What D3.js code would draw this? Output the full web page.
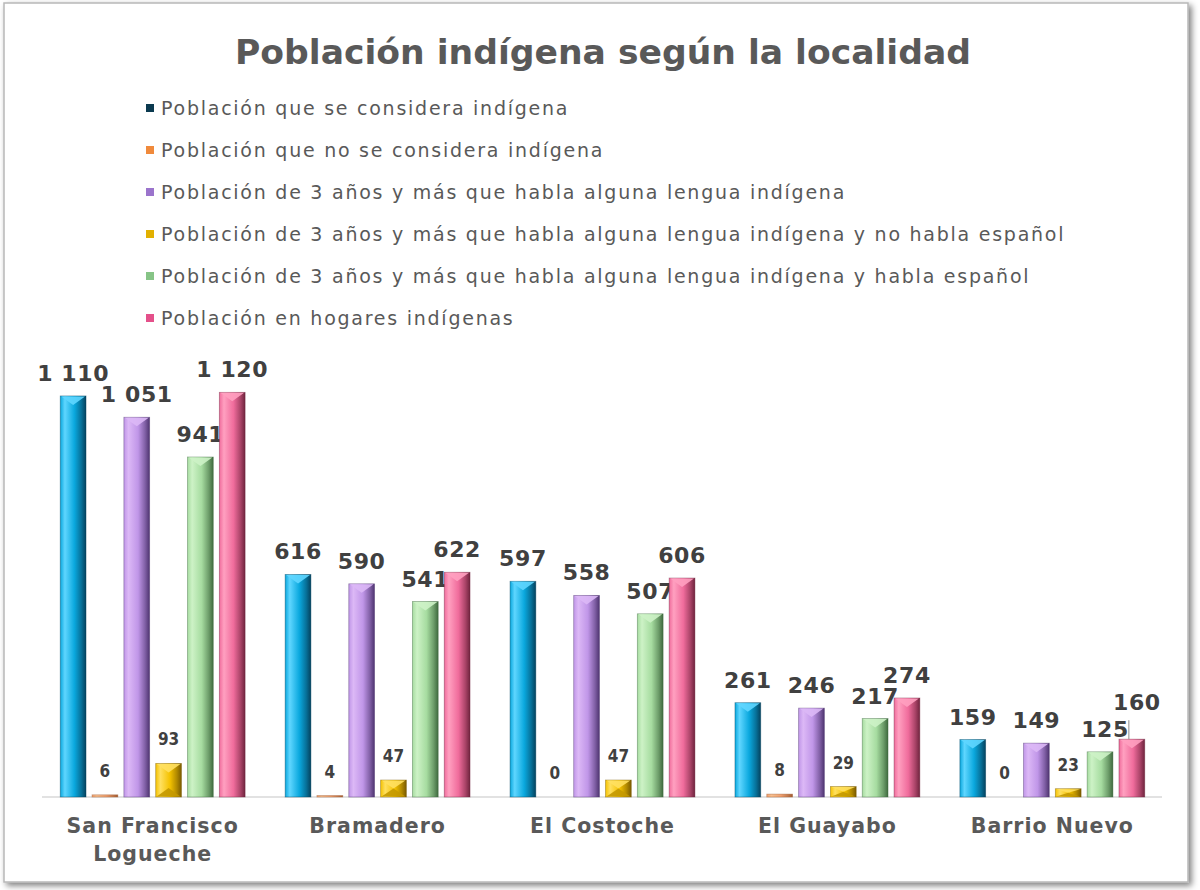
<!DOCTYPE html>
<html><head><meta charset="utf-8">
<script src="https://cdn.jsdelivr.net/npm/d3@7/dist/d3.min.js"></script>
<style>
html,body{margin:0;padding:0;background:#fff;}
svg{display:block;}
</style></head>
<body>
<svg id="chart" width="1200" height="890"></svg>
<script>
// ---- DATA ----
const title = "Población indígena según la localidad";
const categories = ["San Francisco\nLogueche", "Bramadero", "El Costoche", "El Guayabo", "Barrio Nuevo"];
const seriesNames = [
  "Población que se considera indígena",
  "Población que no se considera indígena",
  "Población de 3 años y más que habla alguna lengua indígena",
  "Población de 3 años y más que habla alguna lengua indígena y no habla español",
  "Población de 3 años y más que habla alguna lengua indígena y habla español",
  "Población en hogares indígenas"
];
const seriesConsidera   = [1110, 616, 597, 261, 159];
const seriesNoConsidera = [6, 4, 0, 8, 0];
const seriesHabla       = [1051, 590, 558, 246, 149];
const seriesNoEspanol   = [93, 47, 47, 29, 23];
const seriesEspanol     = [941, 541, 507, 217, 125];
const seriesHogares     = [1120, 622, 606, 274, 160];
const seriesValues = [seriesConsidera, seriesNoConsidera, seriesHabla, seriesNoEspanol, seriesEspanol, seriesHogares];

// colours
const legendColors = ["#0b3a4f", "#f08a3c", "#9b74cc", "#e2b000", "#86c486", "#e4508a"];
const barLight = ["#5fd6ff", "#f8c090", "#dcb8f6", "#ffe060", "#cdf2c6", "#ffa0c0"];
const barBase  = ["#0aa8de", "#f0a070", "#c096e8", "#f4c200", "#a6dca0", "#f06c9c"];
const barDark  = ["#04425e", "#a05a30", "#4e3470", "#7a5a00", "#3e6a3e", "#70243e"];
const smallLabelSeries = [1, 3];

// ---- CHART ----
const svg = d3.select("#chart");
const defs = svg.append("defs");

const f = defs.append("filter").attr("id","shadow").attr("x","-5%").attr("y","-5%").attr("width","110%").attr("height","110%");
f.append("feGaussianBlur").attr("in","SourceAlpha").attr("stdDeviation",3);
f.append("feOffset").attr("dx",3).attr("dy",3).attr("result","ob");
f.append("feComponentTransfer").append("feFuncA").attr("type","linear").attr("slope",0.5);
const fm = f.append("feMerge"); fm.append("feMergeNode"); fm.append("feMergeNode").attr("in","SourceGraphic");

svg.append("rect").attr("x",4).attr("y",3).attr("width",1184).attr("height",879)
  .attr("fill","#fff").attr("stroke","#b8b8b8").attr("stroke-width",1.5).attr("filter","url(#shadow)");

seriesNames.forEach((n,i)=>{
  const g = defs.append("linearGradient").attr("id","g"+i).attr("x1","0%").attr("x2","100%").attr("y1","0%").attr("y2","0%");
  g.append("stop").attr("offset","0%").attr("stop-color",barBase[i]);
  g.append("stop").attr("offset","18%").attr("stop-color",barLight[i]);
  g.append("stop").attr("offset","55%").attr("stop-color",barBase[i]);
  g.append("stop").attr("offset","82%").attr("stop-color",d3.interpolateRgb(barBase[i],barDark[i])(0.55));
  g.append("stop").attr("offset","100%").attr("stop-color",barDark[i]);
});

// title
svg.append("text").attr("x",603).attr("y",64).attr("text-anchor","middle")
  .attr("font-family","'DejaVu Sans',sans-serif").attr("font-weight","bold")
  .attr("font-size",34).attr("fill","#595959")
  .attr("textLength",736).attr("lengthAdjust","spacingAndGlyphs")
  .text(title);

// legend
const legend = svg.append("g");
seriesNames.forEach((n,i)=>{
  const yy = 108 + i*42;
  legend.append("rect").attr("x",146).attr("y",yy-4).attr("width",8).attr("height",8).attr("fill",legendColors[i]);
  legend.append("text").attr("x",161).attr("y",yy+6.5)
    .attr("font-family","'DejaVu Sans',Verdana,sans-serif").attr("font-size",19).attr("letter-spacing",1.75).attr("fill","#595959")
    .text(n);
});

// scales
const baseY = 797;
const y = d3.scaleLinear().domain([0,1200]).range([baseY, baseY - 1200*0.3613]);
const x0 = d3.scaleBand().domain(categories).range([40,1165]).paddingInner(0.178).paddingOuter(0.09);
const x1 = d3.scaleBand().domain(d3.range(seriesNames.length)).range([0,x0.bandwidth()]).paddingInner(0.19).paddingOuter(0);

const xAxis = d3.axisBottom(x0).tickSize(0).tickFormat("");
const axG = svg.append("g").attr("transform",`translate(0,${baseY})`).call(xAxis);
axG.select(".domain").attr("stroke","#d9d9d9").attr("stroke-width",1.5).attr("d",`M42,0H1162`);

const fmt = d3.formatLocale({decimal:",", thousands:" ", grouping:[3], currency:["$",""]}).format(",d");

const groups = svg.append("g").selectAll("g").data(categories).join("g")
  .attr("transform",d=>`translate(${x0(d)},0)`);

groups.each(function(cat,ci){
  const g = d3.select(this);
  seriesValues.forEach((vals,si)=>{
    const v = vals[ci];
    const bx = x1(si), bw = x1.bandwidth();
    const top = y(v), h = baseY - top;
    if (h > 0) {
      g.append("rect").attr("x",bx).attr("y",top).attr("width",bw).attr("height",h)
        .attr("fill",`url(#g${si})`).attr("stroke",barDark[si]).attr("stroke-opacity",0.5).attr("stroke-width",0.8);
      const th = Math.min(9, h/2);
      if (h > 4) {
        g.append("path").attr("d",`M${bx+1},${top+0.5}L${bx+bw-1},${top+0.5}L${bx+bw/2},${top+th}Z`)
          .attr("fill",barLight[si]).attr("opacity",0.9);
        if (h < 40) {
          g.append("path").attr("d",`M${bx+1},${baseY-0.5}L${bx+bw-1},${baseY-0.5}L${bx+bw/2},${baseY-th}Z`)
            .attr("fill",d3.interpolateRgb(barBase[si],barDark[si])(0.4)).attr("opacity",0.9);
        }
      }
    }
    const small = smallLabelSeries.includes(si);
    let ly = top - (small ? 18 : 15);
    let lx = bx + bw/2;
    if (si === 4 && ci === categories.length-1) lx += 5;
    if (si === 5 && ci === categories.length-1) {
      const bumped = ly - 14;
      g.append("line").attr("x1",lx-3).attr("x2",lx-3).attr("y1",bumped+10).attr("y2",top)
        .attr("stroke","#8c8c8c").attr("stroke-width",1);
      ly = bumped; lx = lx + 5;
    }
    g.append("text").attr("x",lx).attr("y",ly).attr("text-anchor","middle")
      .attr("font-family", small ? "'DejaVu Sans Condensed','DejaVu Sans',sans-serif" : "'DejaVu Sans',Verdana,sans-serif")
      .attr("font-weight","bold").attr("font-size", small ? 17 : 22).attr("fill","#404040")
      .attr("letter-spacing", small ? 0 : 0.6)
      .text(fmt(v));
  });
});

categories.forEach(c=>{
  const lines = c.split("\n");
  const cx = x0(c)+x0.bandwidth()/2;
  const t = svg.append("text").attr("x",cx).attr("y",833).attr("text-anchor","middle")
    .attr("font-family","'DejaVu Sans',Verdana,sans-serif").attr("font-weight","bold").attr("font-size",20.5)
    .attr("letter-spacing",1).attr("fill","#595959");
  lines.forEach((l,i)=>t.append("tspan").attr("x",cx).attr("dy",i?28:0).text(l));
});
</script>
</body></html>
